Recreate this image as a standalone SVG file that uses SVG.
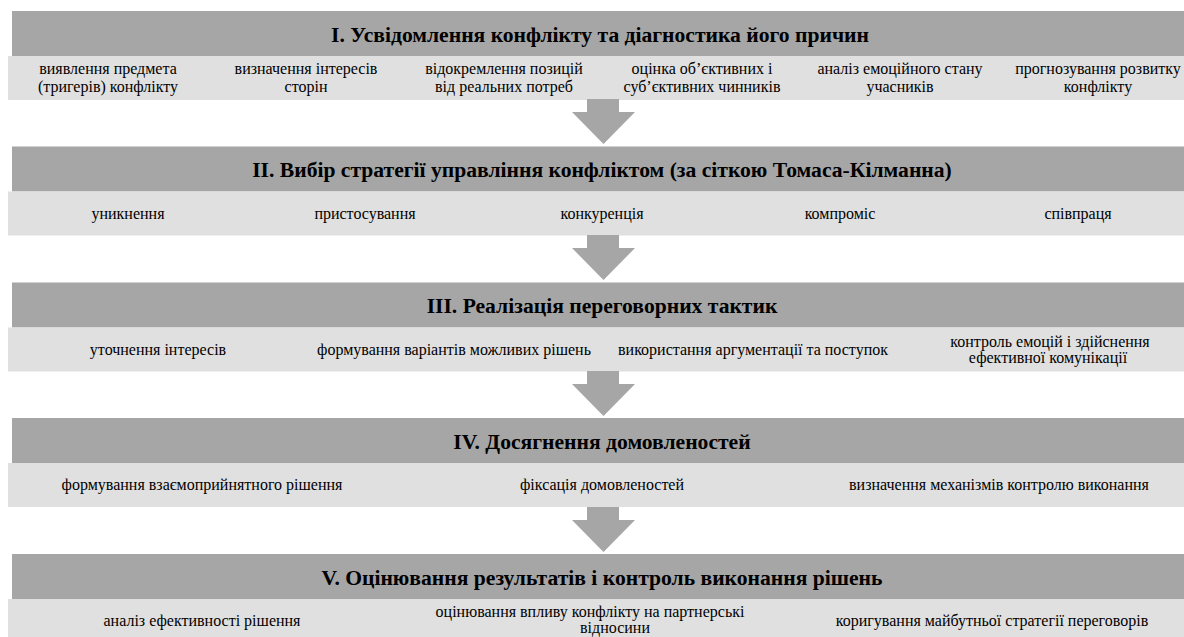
<svg xmlns="http://www.w3.org/2000/svg" width="1184" height="637" viewBox="0 0 1184 637">
<style>
.hd{fill:#a6a6a6}
.rw{fill:#e0e0e0}
.ar{fill:#a6a6a6}
.t{font-family:"Liberation Serif","Times New Roman",serif;font-weight:bold;font-size:21.6px;fill:#000;text-anchor:middle}
.c{font-family:"Liberation Serif","Times New Roman",serif;font-size:16px;fill:#000;text-anchor:middle}
.c1{font-family:"Liberation Serif","Times New Roman",serif;font-size:16px;fill:#000;text-anchor:middle}
</style>
<defs>
<path id="arrow" d="M587,0 H619 V13 H635 L603.5,45 L572,13 H587 Z"/>
</defs>
<rect width="1184" height="637" fill="#fff"/>
<g id="stage1">
<rect class="hd" x="12" y="11" width="1180" height="45"/>
<rect class="rw" x="8" y="56" width="1190" height="44"/>
<text class="t" x="600" y="42">I. Усвідомлення конфлікту та діагностика його причин</text>
<text class="c1" x="108" y="74">виявлення предмета</text>
<text class="c1" x="108" y="92">(тригерів) конфлікту</text>
<text class="c1" x="306" y="74">визначення інтересів</text>
<text class="c1" x="306" y="92">сторін</text>
<text class="c1" x="504" y="74">відокремлення позицій</text>
<text class="c1" x="504" y="92">від реальних потреб</text>
<text class="c1" x="702" y="74">оцінка об’єктивних і</text>
<text class="c1" x="702" y="92">суб’єктивних чинників</text>
<text class="c1" x="900" y="74">аналіз емоційного стану</text>
<text class="c1" x="900" y="92">учасників</text>
<text class="c1" x="1098" y="74">прогнозування розвитку</text>
<text class="c1" x="1098" y="92">конфлікту</text>
</g>
<g id="stage2">
<rect class="hd" x="12" y="146.5" width="1180" height="45"/>
<rect class="rw" x="8" y="191.5" width="1190" height="44"/>
<text class="t" x="602" y="177">II. Вибір стратегії управління конфліктом (за сіткою Томаса-Кілманна)</text>
<text class="c" x="128" y="219">уникнення</text>
<text class="c" x="365" y="219">пристосування</text>
<text class="c" x="602" y="219">конкуренція</text>
<text class="c" x="840" y="219">компроміс</text>
<text class="c" x="1078" y="219">співпраця</text>
</g>
<g id="stage3">
<rect class="hd" x="12" y="282.5" width="1180" height="45"/>
<rect class="rw" x="8" y="327.5" width="1190" height="44"/>
<text class="t" x="602" y="313">III. Реалізація переговорних тактик</text>
<text class="c" x="158" y="355">уточнення інтересів</text>
<text class="c" x="454" y="355">формування варіантів можливих рішень</text>
<text class="c" x="753" y="355">використання аргументації та поступок</text>
<text class="c" x="1050" y="347">контроль емоцій і здійснення</text>
<text class="c" x="1048" y="363">ефективної комунікації</text>
</g>
<g id="stage4">
<rect class="hd" x="12" y="418" width="1180" height="45"/>
<rect class="rw" x="8" y="463" width="1190" height="44"/>
<text class="t" x="602" y="449">IV. Досягнення домовленостей</text>
<text class="c" x="202" y="490">формування взаємоприйнятного рішення</text>
<text class="c" x="602" y="490">фіксація домовленостей</text>
<text class="c" x="999" y="490">визначення механізмів контролю виконання</text>
</g>
<g id="stage5">
<rect class="hd" x="12" y="554" width="1180" height="45"/>
<rect class="rw" x="8" y="599" width="1190" height="44"/>
<text class="t" x="602" y="585">V. Оцінювання результатів і контроль виконання рішень</text>
<text class="c" x="202" y="626">аналіз ефективності рішення</text>
<text class="c" x="590" y="617">оцінювання впливу конфлікту на партнерські</text>
<text class="c" x="615" y="633">відносини</text>
<text class="c" x="992" y="626">коригування майбутньої стратегії переговорів</text>
</g>
<g id="connectors">
<use href="#arrow" class="ar" y="99"/>
<use href="#arrow" class="ar" y="235"/>
<use href="#arrow" class="ar" y="371"/>
<use href="#arrow" class="ar" y="507"/>
</g>
</svg>
